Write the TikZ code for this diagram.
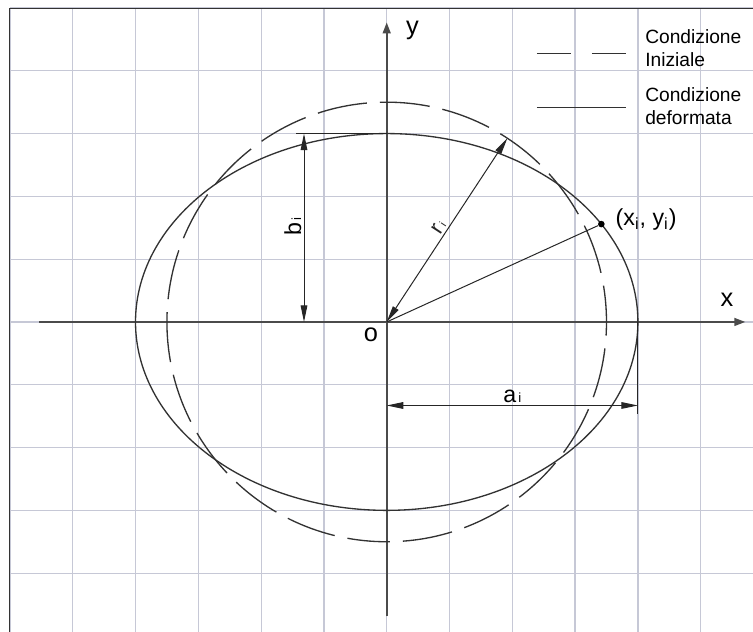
\documentclass[tikz,border=0pt]{standalone}
\usepackage{fontspec}
\setmainfont{Liberation Sans}
\usetikzlibrary{arrows.meta, positioning, calc}
\usepackage{xcolor}
\definecolor{gridgray}{RGB}{198,200,214}
\definecolor{curvegray}{RGB}{50,50,50}
\definecolor{axisgray}{RGB}{75,75,75}

\begin{document}
\begin{tikzpicture}[
    gridline/.style={gridgray, line width=0.55pt},
    axisline/.style={axisgray, line width=0.75pt, -{Triangle[length=5pt,width=3.6pt]}},
    curve/.style={curvegray, line width=0.6pt},
    initial/.style={curve, dash pattern=on 22.7pt off 5.9pt, dash phase=21.3pt},
    legdash/.style={curve, dash pattern=on 15.4pt off 9.5pt},
    dimline/.style={black!85, line width=0.45pt},
    dimarrow/.style={dimline, {Triangle[length=7.5pt,width=3pt]}-{Triangle[length=7.5pt,width=3pt]}},
    axislabel/.style={font=\fontsize{11.5}{13}\selectfont, inner sep=0pt},
    dimlabel/.style={font=\fontsize{10.5}{12}\selectfont, inner sep=1pt},
    legtext/.style={font=\fontsize{8.7}{10.3}\selectfont, align=left, anchor=west, inner sep=0pt},
    dot/.style={circle, fill=black, inner sep=0pt, minimum size=3pt}
]
    % Page and frame
    \useasboundingbox (-6.158,-4.936) rectangle (5.833,5.127);
    \clip (-6.158,-4.936) rectangle (5.833,5.127);
    \fill[white] (-6.158,-4.936) rectangle (5.833,5.127);
    % Grid
    \draw[gridline, step=1cm] (-6,-5) grid (6,5);
    \draw[black!80, line width=0.7pt] (-6.01,-6) rectangle (7,4.99);

    % Axes
    \coordinate (O) at (0,0);
    \draw[axisline] (-5.53,0) -- (5.71,0);
    \draw[axisline] (0,-4.69) -- (0,4.77);
    \node[axislabel] (xlab) at (5.42,0.35) {x};
    \node[axislabel] (ylab) at (0.41,4.65) {y};
    \node[axislabel] (olab) at (-0.25,-0.21) {o};

    % Initial (circle) and deformed (ellipse) condition
    \draw[initial] (0,-3.5) arc[start angle=-90, end angle=270, radius=3.5];
    \draw[curve] (O) ellipse [x radius=4, y radius=3];

    % Legend
    \draw[legdash] (2.39,4.28) -- (3.81,4.28);
    \node[legtext] (leginit) at (4.11,4.36) {Condizione\\Iniziale};
    \draw[curve] (2.39,3.41) -- (3.81,3.41);
    \node[legtext] (legdef) at (4.11,3.44) {Condizione\\deformata};

    % Point on the ellipse and radius
    \coordinate (P) at (31.3:4 and 3);
    \coordinate (R) at (56.7:3.5);
    \node[dot] (pt) at (P) {};
    \node[font=\fontsize{10.5}{12}\selectfont, anchor=west, inner sep=0pt] (ptlab) at (3.64,1.63) {(x\textsubscript{i}, y\textsubscript{i})};
    \draw[dimline] (O) -- (pt);
    \draw[dimarrow] (O) -- (R) node[pos=0.49, sloped, above, dimlabel, font=\fontsize{10}{11}\selectfont] (rlab) {r{\fontsize{5}{6}\selectfont\,i}};

    % Dimension b_i
    \coordinate (btop) at (-1.317,3);
    \coordinate (bbot) at (-1.317,0);
    \draw[dimline] (-1.44,3) -- (0,3);
    \draw[dimarrow] (bbot) -- (btop);
    \node[dimlabel, rotate=90, anchor=south] (blab) at (-1.317,1.52) {b{\fontsize{6}{7}\selectfont\,i}};

    % Dimension a_i
    \coordinate (aleft) at (0,-1.33);
    \coordinate (aright) at (4,-1.33);
    \draw[dimline] (4,0) -- (4,-1.47);
    \draw[dimarrow] (aleft) -- (aright);
    \node[dimlabel, anchor=south] (alab) at (2,-1.33) {a{\fontsize{6}{7}\selectfont\,i}};
\end{tikzpicture}
\end{document}
